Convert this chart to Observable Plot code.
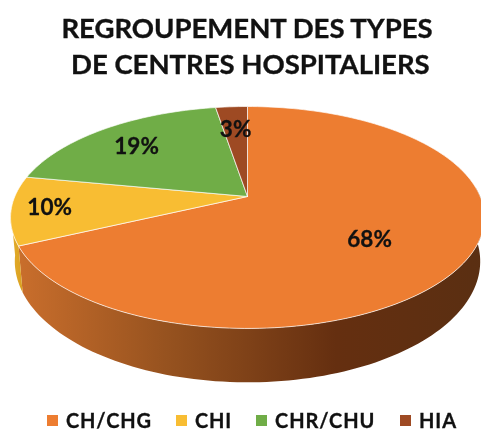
<!DOCTYPE html>
<html><head><meta charset="utf-8">
<script src="https://cdn.jsdelivr.net/npm/d3@7"></script>
<script src="https://cdn.jsdelivr.net/npm/@observablehq/plot@0.6"></script>
<style>
html,body{margin:0;padding:0;background:#fff;overflow:hidden}
body{width:481px;height:432px;position:relative;font-family:Lato,sans-serif;color:#111;filter:blur(.45px)}
#title{position:absolute;left:0;top:10px;width:494px;text-align:center;font-weight:700;font-size:27.5px;line-height:36px;white-space:pre;-webkit-text-stroke:.35px #111}
#chart{position:absolute;left:0;top:95px}
#chart svg{display:block;overflow:hidden}
#legend{position:absolute;top:408px;left:47px;height:24px;line-height:24px;display:flex;align-items:center;font-weight:700;font-size:20px;letter-spacing:.85px;-webkit-text-stroke:.3px #111}
#legend .k{display:inline-block;width:11px;height:11px;margin-right:8px}
#legend .e{display:flex;align-items:center;height:24px}
</style></head><body>
<div id="title"></div><div id="chart"></div><div id="legend"></div>
<script>
const titleLines = ["REGROUPEMENT DES TYPES", " DE CENTRES HOSPITALIERS"];
const categories = ["CH/CHG", "CHI", "CHR/CHU", "HIA"];
const shares = [68, 10, 19.4, 2.6];
const colors = ["#ED7D31", "#F8BD33", "#70AD47", "#9E4A23"];
const labelRadius = [0.614, 0.84, 0.73, 0.71];
const labelTurn = [0.014, 0, -0.004, 0];
const legendGaps = [24, 24, 25, 0];

const K = 0.189, A = 232.7, B = 107, STEP = 1.5;
const WALL_S = 1.09, WALL_D = 42, WALL_X = 0.982;
const rad = d => d * Math.PI / 180;
const top3d = (t, r = 1) => { const u = r * Math.sin(rad(t)), v = r * Math.cos(rad(t)), w = 1 + K * v; return [A * u / w, -B * v / w]; };
const low3d = t => { const [x, y] = top3d(t); return [x * WALL_X, y * WALL_S + WALL_D]; };
const range = (a, b) => { const n = Math.max(2, Math.ceil((b - a) / STEP)); return d3.range(n + 1).map(i => a + (b - a) * i / n); };
const cum = d3.cumsum(shares);
const slices = categories.map((c, i) => ({c, color: colors[i], a: (i ? cum[i - 1] : 0) * 3.6, b: cum[i] * 3.6}));
const sector = s => [[0, 0], ...range(s.a, s.b).map(t => top3d(t)), [0, 0]];
const wall = (a, b) => [...range(a, b).map(t => top3d(t)), ...range(a, b).reverse().map(low3d)];
const labels = slices.map((s, i) => {
  const [x, y] = top3d((s.a + s.b) / 2 + labelTurn[i] * 360, labelRadius[i]);
  return {x, y, text: Math.round(shares[i]) + "%"};
});
const line = (pts, fill, o = {}) => Plot.line(pts, {x: "0", y: "1", fill, stroke: "none", ...o});

document.getElementById("title").textContent = titleLines.join("\n");
const chart = Plot.plot({
  width: 481, height: 300, margin: 0,
  x: {domain: [-247, 234], axis: null},
  y: {domain: [199, -101], axis: null},
  marks: [
    () => {
      const defs = d3.create("svg:defs");
      const g = (id, stops) => {
        const lg = defs.append("linearGradient").attr("id", id).attr("x1", 0).attr("x2", 1).attr("y1", 0).attr("y2", 0);
        stops.forEach(([o, c]) => lg.append("stop").attr("offset", o).attr("stop-color", c));
      };
      g("wallO", [[0, "#C96E2C"], [0.32, "#96521F"], [0.68, "#652F10"], [1, "#5A2F12"]]);
      g("wallY", [[0, "#E5AE2C"], [1, "#D9A021"]]);
      return defs.node();
    },
    line(wall(85, slices[0].b), "url(#wallO)"),
    line(wall(slices[0].b, 262), "url(#wallY)"),
    slices.map(s => line(sector(s), s.color, {stroke: "#fff", strokeWidth: 0.8, strokeOpacity: 0.85})),
    Plot.text(labels, {x: "x", y: "y", text: "text", fontFamily: "Lato, sans-serif", fontWeight: 700, fontSize: 22.5, fill: "#111", stroke: "#111", strokeWidth: 0.3})
  ]
});
document.getElementById("chart").append(chart);
const lg = document.getElementById("legend");
categories.forEach((c, i) => {
  const e = document.createElement("span"); e.className = "e"; e.style.marginRight = legendGaps[i] + "px";
  const k = document.createElement("span"); k.className = "k"; k.style.background = colors[i];
  const t = document.createElement("span"); t.textContent = c;
  e.append(k, t); lg.append(e);
});
</script></body></html>
